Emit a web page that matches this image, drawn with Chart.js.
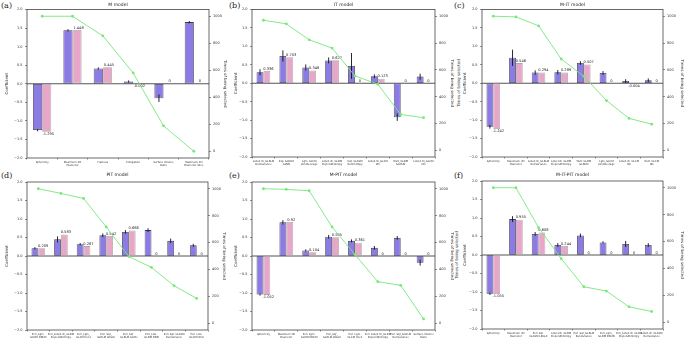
<!DOCTYPE html>
<html lang="en">
<head>
<meta charset="UTF-8" />
<title>Coefficients and selection times</title>
<script src="https://cdn.jsdelivr.net/npm/chart.js"></script>
<style>
    body {
        margin: 0;
        background: #fff;
        width: 685px;
        height: 340px;
        position: relative;
        overflow: hidden;
        font-family: 'DejaVu Sans', sans-serif;
    }

    .panel {
        position: absolute;
    }

    .tag {
        position: absolute;
        font-family: 'DejaVu Serif', serif;
        font-size: 8px;
        line-height: 8px;
        color: #222;
    }

    .side {
        position: absolute;
        font-size: 4px;
        color: #333;
        white-space: nowrap;
        transform: translate(-50%, -50%) rotate(-90deg);
    }
</style>
</head>
<body>
<div class="tag" style="left:1px;top:2px">(a)</div>
<div class="tag" style="left:229px;top:2px">(b)</div>
<div class="tag" style="left:454px;top:2px">(c)</div>
<div class="tag" style="left:1px;top:172px">(d)</div>
<div class="tag" style="left:229px;top:172px">(e)</div>
<div class="tag" style="left:454px;top:172px">(f)</div>
<div class="side" style="left:458px;top:83px">Times of being selected</div>
<div class="side" style="left:456px;top:255px">Times of being selected</div>

<script>
// ===== data =====
const catsA = [['Sphericity'], ['Maximum 3D', 'Diameter'], ['Flatness'], ['Elongation'], ['Surface Volume', 'Ratio'], ['Maximum 2D', 'Diameter Slice']];
const coefA = [-1.25, 1.44, 0.41, 0.06, -0.39, 1.66];
const errA = [0.03, 0.03, 0.03, 0.03, 0.1, 0.03];
const finalA = [-1.295, 1.448, 0.445, -0.002, 0, 0];
const timesA = [1000, 1000, 855, 580, 188, 0];

const catsB = [['LoG(1.0)_GLRLM', 'RunVariance'], ['Exp_GLRLM', 'GLNN'], ['Lgm_GLCM', 'JointAverage'], ['LoG(1.0)_GLDM', 'DependEntropy'], ['Exp_GLRLM', 'RunEntropy'], ['LoG(1.0)_GLCM', 'Idn'], ['Wvlt_GLDM', 'GLNUN'], ['LoG(2.0)_GLCM', 'Idn']];
const coefB = [0.30, 0.74, 0.43, 0.62, 0.47, 0.19, -0.92, 0.18];
const errB = [0.08, 0.15, 0.08, 0.08, 0.35, 0.05, 0.1, 0.08];
const finalB = [0.336, 0.703, 0.348, 0.627, 0, 0.123, 0, 0];
const timesB = [970, 943, 824, 762, 555, 493, 267, 243];

const catsC = [['Sphericity'], ['Maximum 3D', 'Diameter'], ['LoG(1.0)_GLRLM', 'RunVariance'], ['LoG(1.0)_GLDM', 'DependEntropy'], ['Wvlt_GLDM', 'GLNUN'], ['Lgm_GLCM', 'JointAverage'], ['LoG(1.0)_GLCM', 'Idn'], ['Wvlt_GLCM', 'Idn']];
const coefC = [-1.18, 0.69, 0.29, 0.30, 0.55, 0.28, 0.06, 0.08];
const errC = [0.05, 0.22, 0.06, 0.06, 0.05, 0.05, 0.05, 0.05];
const finalC = [-1.242, 0.546, 0.294, 0.289, 0.507, 0, -0.004, 0];
const timesC = [1000, 995, 928, 681, 552, 371, 238, 195];

const catsD = [['Peri_Lgm_', 'GLDM DNUN'], ['Peri_LoG(1.0)_GLDM', 'DependEntropy'], ['Peri_Lgm_', 'GLCM Imc1'], ['Peri_Sqr_', 'GLRLM LRGLE'], ['Peri_Sqr_', 'GLRLM GLNU'], ['Peri_LoG_', 'GLDM DNN'], ['Peri_Sqr_GLRLM', 'RunVariance'], ['Peri_LoG_', 'GLCM Idmn']];
const coefD = [0.21, 0.45, 0.32, 0.56, 0.65, 0.70, 0.41, 0.29];
const errD = [0.03, 0.08, 0.03, 0.05, 0.05, 0.05, 0.06, 0.04];
const finalD = [0.209, 0.583, 0.267, 0.542, 0.686, 0, 0, 0];
const timesD = [1000, 965, 928, 716, 496, 415, 279, 185];

const catsE = [['Sphericity'], ['Maximum 3D', 'Diameter'], ['Peri_Lgm_', 'GLDM DNUN'], ['Peri_Sqr_', 'GLRLM LRGLE'], ['Peri_Lgm_', 'GLCM Imc1'], ['Peri_LoG(1.0)_GLDM', 'DependEntropy'], ['Peri_Sqr_GLRLM', 'RunVariance'], ['Surface Volume', 'Ratio']];
const coefE = [-1.04, 0.91, 0.15, 0.52, 0.41, 0.22, 0.49, -0.18];
const errE = [0.03, 0.06, 0.03, 0.05, 0.04, 0.05, 0.05, 0.08];
const finalE = [-1.052, 0.92, 0.104, 0.505, 0.361, 0, 0, 0];
const timesE = [1000, 995, 985, 716, 511, 309, 282, 32];

const catsF = [['Sphericity'], ['Maximum 3D', 'Diameter'], ['Peri_Sqr_', 'GLRLM LRGLE'], ['LoG(1.0)_GLDM', 'DependEntropy'], ['Peri_Sqr_GLRLM', 'RunVariance'], ['Peri_Lgm_', 'GLDM DNUN'], ['Peri_LoG(1.0)_GLDM', 'DependEntropy'], ['LoG(1.0)_GLRLM', 'RunVariance']];
const coefF = [-1.05, 0.97, 0.57, 0.27, 0.53, 0.34, 0.30, 0.27];
const errF = [0.03, 0.08, 0.05, 0.05, 0.05, 0.03, 0.08, 0.05];
const finalF = [-1.055, 0.955, 0.608, 0.244, 0, 0, 0, 0];
const timesF = [1000, 1000, 704, 473, 264, 232, 115, 80];

const FONT = "'DejaVu Sans', sans-serif";
const BLUE = '#8c7be4';
const PINK = '#e8a7c9';
const GREEN = '#77e87a';

// draws frame, zero line, error bars on blue bars and labels on pink bars
const extras = {
    id: 'extras',
    beforeDatasetsDraw(chart) {
        const { ctx, chartArea: a, scales } = chart;
        const y0 = scales.y.getPixelForValue(0);
        ctx.save();
        ctx.strokeStyle = '#555';
        ctx.lineWidth = 1.1;
        ctx.beginPath();
        ctx.moveTo(a.left, y0);
        ctx.lineTo(a.right, y0);
        ctx.stroke();
        ctx.restore();
    },
    afterDatasetDraw(chart, args) {
        const { ctx, scales } = chart;
        const cfg = chart.options.plugins.extras;
        if (args.index === 0) {
            ctx.save();
            ctx.strokeStyle = '#111';
            ctx.lineWidth = 0.9;
            args.meta.data.forEach((bar, i) => {
                const v = cfg.coef[i], e = cfg.err[i];
                ctx.beginPath();
                ctx.moveTo(bar.x, scales.y.getPixelForValue(v - e));
                ctx.lineTo(bar.x, scales.y.getPixelForValue(v + e));
                ctx.stroke();
            });
            ctx.restore();
        }
        if (args.index === 1) {
            ctx.save();
            ctx.fillStyle = '#222';
            ctx.font = '3.6px ' + FONT;
            ctx.textAlign = 'center';
            args.meta.data.forEach((bar, i) => {
                const v = cfg.final[i];
                if (v < 0) {
                    ctx.textBaseline = 'top';
                    ctx.fillText(String(v), bar.x + 1.5, bar.y + 0.5);
                } else {
                    ctx.textBaseline = 'bottom';
                    ctx.fillText(String(v), bar.x + 1.5, bar.y - 0.5);
                }
            });
            ctx.restore();
        }
    },
    afterDraw(chart) {
        const { ctx, chartArea: a } = chart;
        ctx.save();
        ctx.strokeStyle = '#444';
        ctx.lineWidth = 0.8;
        ctx.strokeRect(a.left, a.top, a.right - a.left, a.bottom - a.top);
        ctx.restore();
    }
};

function makePanel(box, plot, title, cats, coef, err, final, times, leftX, rightX) {
    const div = document.createElement('div');
    div.className = 'panel';
    div.style.left = box.x + 'px';
    div.style.top = box.y + 'px';
    div.style.width = box.w + 'px';
    div.style.height = box.h + 'px';
    const canvas = document.createElement('canvas');
    div.appendChild(canvas);
    document.body.appendChild(div);

    const titleSize = 4.5;
    const titleTop = 2.5;
    const axisTitleLH = 4 * 1.2;

    new Chart(canvas, {
        type: 'bar',
        data: {
            labels: cats,
            datasets: [
                { data: coef, backgroundColor: BLUE, borderColor: '#3d3d4d', borderWidth: 0.8, borderSkipped: false, categoryPercentage: 0.6, barPercentage: 1, order: 1 },
                { data: final, backgroundColor: PINK, borderColor: '#a8a8a8', borderWidth: 0.8, borderSkipped: false, categoryPercentage: 0.6, barPercentage: 1, order: 1 },
                { type: 'line', data: times, yAxisID: 'y2', borderColor: GREEN, backgroundColor: GREEN, borderWidth: 0.9, pointRadius: 1.4, pointBorderWidth: 0, tension: 0, order: 0 }
            ]
        },
        options: {
            responsive: true,
            maintainAspectRatio: false,
            animation: false,
            layout: { padding: 0 },
            plugins: {
                legend: { display: false },
                tooltip: { enabled: false },
                title: {
                    display: true,
                    text: title,
                    fullSize: false,
                    color: '#222',
                    font: { family: FONT, size: titleSize, weight: 'normal', lineHeight: 1.2 },
                    padding: { top: titleTop, bottom: plot.t - box.y - titleTop - titleSize * 1.2 }
                },
                extras: { coef: coef, err: err, final: final }
            },
            scales: {
                x: {
                    offset: true,
                    border: { display: false },
                    grid: { display: true, drawOnChartArea: false, drawTicks: true, tickLength: 1.5, color: '#444', lineWidth: 0.6 },
                    ticks: { autoSkip: false, maxRotation: 0, minRotation: 0, padding: 1, color: '#333', font: { family: FONT, size: 2.6, lineHeight: 1.15 } },
                    afterFit: s => { s.height = box.y + box.h - plot.b; }
                },
                y: {
                    min: -2, max: 2,
                    border: { display: false },
                    grid: { display: true, drawOnChartArea: false, drawTicks: true, tickLength: 2, color: '#444', lineWidth: 0.6 },
                    ticks: { stepSize: 0.5, padding: 2.5, color: '#333', font: { family: FONT, size: 3.5 }, callback: v => (v < 0 ? '\u2212' : '') + Math.abs(v).toFixed(1) },
                    title: { display: true, text: 'Coefficient', color: '#333', font: { family: FONT, size: 4, lineHeight: 1.2 }, padding: { top: leftX - box.x - axisTitleLH / 2, bottom: 0 } },
                    afterFit: s => { s.width = plot.l - box.x; }
                },
                y2: {
                    position: 'right',
                    min: -50, max: 1050,
                    border: { display: false },
                    grid: { display: true, drawOnChartArea: false, drawTicks: true, tickLength: 2, color: '#444', lineWidth: 0.6 },
                    ticks: { stepSize: 200, includeBounds: false, padding: 2, color: '#333', font: { family: FONT, size: 3.5 }, callback: v => String(v) },
                    title: { display: true, text: 'Times of being selected', color: '#333', font: { family: FONT, size: 4, lineHeight: 1.2 }, padding: { top: box.x + box.w - rightX - axisTitleLH / 2, bottom: 0 } },
                    afterFit: s => { s.width = box.x + box.w - plot.r; }
                }
            }
        },
        plugins: [extras]
    });
}

makePanel({ x: 0, y: 0, w: 232, h: 170 }, { l: 27, t: 9.5, r: 209, b: 158 }, 'M model', catsA, coefA, errA, finalA, timesA, 7, 225);
makePanel({ x: 226, y: 0, w: 232, h: 170 }, { l: 252, t: 9.5, r: 435, b: 157 }, 'IT model', catsB, coefB, errB, finalB, timesB, 236, 452);
makePanel({ x: 452, y: 0, w: 233, h: 170 }, { l: 482, t: 9.5, r: 663, b: 157 }, 'M-IT model', catsC, coefC, errC, finalC, timesC, 465, 682);
makePanel({ x: 0, y: 170, w: 232, h: 170 }, { l: 27, t: 182, r: 208, b: 330 }, 'PIT model', catsD, coefD, errD, finalD, timesD, 7, 224);
makePanel({ x: 226, y: 170, w: 232, h: 170 }, { l: 252, t: 182, r: 435, b: 330 }, 'M-PIT model', catsE, coefE, errE, finalE, timesE, 236, 452);
makePanel({ x: 452, y: 170, w: 233, h: 170 }, { l: 482, t: 181, r: 663, b: 329 }, 'M-IT-PIT model', catsF, coefF, errF, finalF, timesF, 465, 682);
</script>
</body>
</html>
